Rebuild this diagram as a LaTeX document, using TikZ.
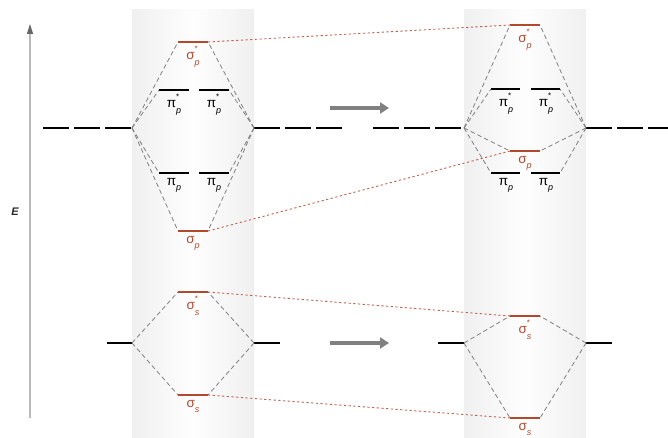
\documentclass[tikz,border=0pt]{standalone}
\usepackage{fontspec}
\setmainfont{Liberation Sans}
\usetikzlibrary{arrows.meta}
\definecolor{mored}{RGB}{178,72,44}
\definecolor{conn}{RGB}{128,128,128}
\newcommand\orb[3]{#1\rlap{\raisebox{1.15ex}{\fontsize{8}{8}\selectfont #2}}\raisebox{-0.75ex}{\fontsize{9}{9}\selectfont\itshape #3}}
\newcommand\lev[5]{\coordinate (#1l) at (#2,#4); \coordinate (#1r) at (#3,#4); \draw[#5] (#1l) -- (#1r);}
\tikzset{
 blev/.style={line width=2.6pt, black},
 rlev/.style={line width=2.6pt, mored},
 corr/.style={conn, line width=0.8pt, dash pattern=on 4.5pt off 3pt},
 redcorr/.style={mored!85, line width=0.9pt, dash pattern=on 2.2pt off 2.5pt},
 atomp/.style={line width=2.6pt, dash pattern=on 25.5pt off 5.5pt},
 lbl/.style={font=\fontsize{13.5}{13.5}\selectfont, inner sep=0pt, anchor=north},
 rlbl/.style={lbl, text=mored},
 panel/.style={left color=gray!12, right color=gray!12, middle color=gray!1},
 bigarrow/.style={conn, line width=3.8pt, -{Triangle[length=9pt,width=11pt]}},
}
\begin{document}
\begin{tikzpicture}[x=1pt,y=-1pt]
\useasboundingbox (0,0) rectangle (668,438);
% panels
\shade[panel] (132,10) rectangle (254,438);
\shade[panel] (464,10) rectangle (586,438);
% energy axis
\coordinate (axb) at (30,418);
\coordinate (axt) at (30,24);
\draw[gray!55, line width=1.4pt, -{Triangle[length=10pt,width=6pt,fill=gray!80!black,color=gray!80!black]}] (axb) -- (axt);
\node[font=\fontsize{11}{11}\selectfont\bfseries\itshape, text=black!85] (E) at (15,212) {E};
% ---------- left panel, p ----------
\coordinate (AL) at (132,128);
\coordinate (AR) at (254,128);
\coordinate (ALd) at (43,128);
\coordinate (ARd) at (343,128);
\draw[atomp] (ALd) -- (AL);
\draw[atomp] (AR) -- (ARd);
\lev{Lsps}{178}{208}{42}{rlev}
\lev{Lpisa}{159}{189}{90}{blev}
\lev{Lpisb}{199}{229}{90}{blev}
\lev{Lpia}{159}{189}{173}{blev}
\lev{Lpib}{199}{229}{173}{blev}
\lev{Lsp}{178}{208}{231}{rlev}
\node[rlbl] (tLsps) at (193,46) {\orb{σ}{*}{p}};
\node[lbl] (tLpisa) at (174,94) {\orb{π}{*}{p}};
\node[lbl] (tLpisb) at (214,94) {\orb{π}{*}{p}};
\node[lbl] (tLpia) at (174,177) {\orb{π}{}{p}};
\node[lbl] (tLpib) at (214,177) {\orb{π}{}{p}};
\node[rlbl] (tLsp) at (193,235) {\orb{σ}{}{p}};
\draw[corr] (AL) -- (Lspsl);
\draw[corr] (AL) -- (Lpisal);
\draw[corr] (AL) -- (Lpial);
\draw[corr] (AL) -- (Lspl);
\draw[corr] (AR) -- (Lspsr);
\draw[corr] (AR) -- (Lpisbr);
\draw[corr] (AR) -- (Lpibr);
\draw[corr] (AR) -- (Lspr);
% ---------- right panel, p ----------
\coordinate (BL) at (464,128);
\coordinate (BR) at (586,128);
\coordinate (BLd) at (373,128);
\coordinate (BRd) at (668,128);
\draw[atomp] (BLd) -- (BL);
\draw[atomp] (BR) -- (BRd);
\lev{Rsps}{510}{540}{25}{rlev}
\lev{Rpisa}{491}{520}{89}{blev}
\lev{Rpisb}{531}{560}{89}{blev}
\lev{Rsp}{510}{540}{151}{rlev}
\lev{Rpia}{491}{520}{173}{blev}
\lev{Rpib}{531}{560}{173}{blev}
\node[rlbl] (tRsps) at (525,29) {\orb{σ}{*}{p}};
\node[lbl] (tRpisa) at (506,93) {\orb{π}{*}{p}};
\node[lbl] (tRpisb) at (546,93) {\orb{π}{*}{p}};
\node[rlbl] (tRsp) at (525,155) {\orb{σ}{}{p}};
\node[lbl] (tRpia) at (506,177) {\orb{π}{}{p}};
\node[lbl] (tRpib) at (546,177) {\orb{π}{}{p}};
\draw[corr] (BL) -- (Rspsl);
\draw[corr] (BL) -- (Rpisal);
\draw[corr] (BL) -- (Rpial);
\draw[corr] (BL) -- (Rspl);
\draw[corr] (BR) -- (Rspsr);
\draw[corr] (BR) -- (Rpisbr);
\draw[corr] (BR) -- (Rpibr);
\draw[corr] (BR) -- (Rspr);
% red links, p
\draw[redcorr] (Lspsr) -- (Rspsl);
\draw[redcorr] (Lspr) -- (Rspl);
% ---------- s levels ----------
\coordinate (sAL) at (132,343);
\coordinate (sAR) at (254,343);
\coordinate (sALd) at (107,343);
\coordinate (sARd) at (280,343);
\draw[blev] (sALd) -- (sAL);
\draw[blev] (sAR) -- (sARd);
\lev{Lsss}{178}{208}{292}{rlev}
\lev{Lss}{178}{208}{395}{rlev}
\node[rlbl] (tLsss) at (193,296) {\orb{σ}{*}{s}};
\node[rlbl] (tLss) at (193,399) {\orb{σ}{}{s}};
\draw[corr] (sAL) -- (Lsssl);
\draw[corr] (sAL) -- (Lssl);
\draw[corr] (sAR) -- (Lsssr);
\draw[corr] (sAR) -- (Lssr);
\coordinate (sBL) at (464,343);
\coordinate (sBR) at (586,343);
\coordinate (sBLd) at (438,343);
\coordinate (sBRd) at (612,343);
\draw[blev] (sBLd) -- (sBL);
\draw[blev] (sBR) -- (sBRd);
\lev{Rsss}{510}{540}{316}{rlev}
\lev{Rss}{510}{540}{418}{rlev}
\node[rlbl] (tRsss) at (525,320) {\orb{σ}{*}{s}};
\node[rlbl] (tRss) at (525,422) {\orb{σ}{}{s}};
\draw[corr] (sBL) -- (Rsssl);
\draw[corr] (sBL) -- (Rssl);
\draw[corr] (sBR) -- (Rsssr);
\draw[corr] (sBR) -- (Rssr);
\draw[redcorr] (Lsssr) -- (Rsssl);
\draw[redcorr] (Lssr) -- (Rssl);
% ---------- arrows ----------
\coordinate (a1s) at (330,108);
\coordinate (a1e) at (389,108);
\coordinate (a2s) at (330,343);
\coordinate (a2e) at (389,343);
\draw[bigarrow] (a1s) -- (a1e);
\draw[bigarrow] (a2s) -- (a2e);
\end{tikzpicture}
\end{document}
